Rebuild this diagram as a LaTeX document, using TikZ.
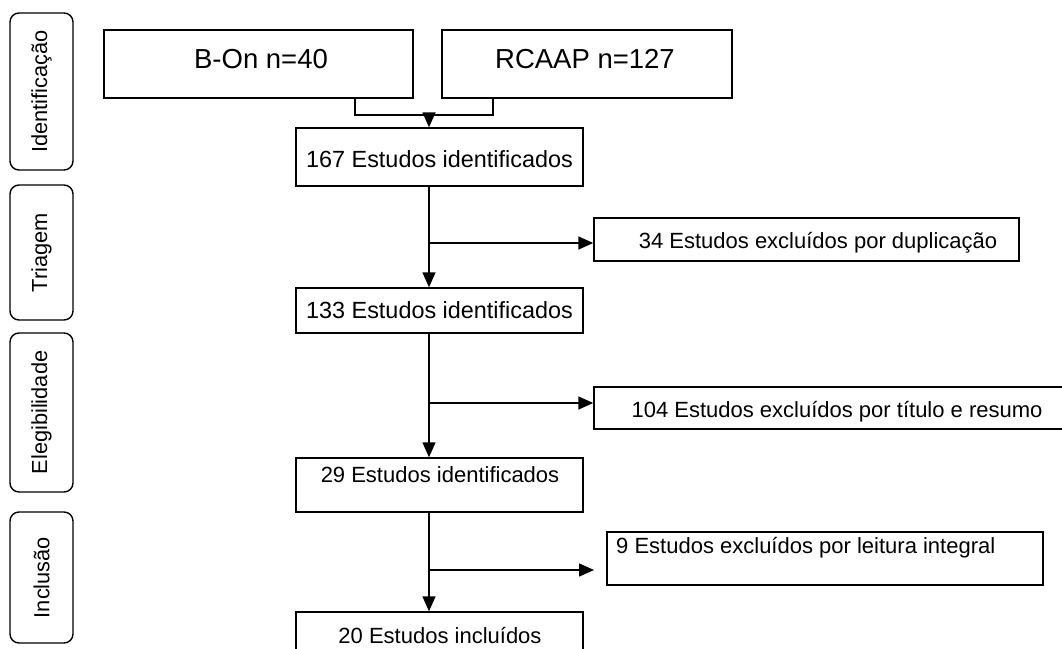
\documentclass[tikz,border=0pt]{standalone}
\usepackage{fontspec}
\setmainfont{Liberation Sans}
\usetikzlibrary{arrows.meta}
\begin{document}
\begin{tikzpicture}[x=1pt,y=-1pt,
  box/.style={draw,line width=1.4pt,inner sep=0pt,rectangle},
  lane/.style={draw,line width=1.4pt,rounded corners=9pt,inner sep=0pt,rectangle},
  big/.style={inner sep=0pt,anchor=base,font=\fontsize{27.5}{31}\selectfont},
  mid/.style={inner sep=0pt,anchor=base,font=\fontsize{23.4}{27}\selectfont},
  small/.style={inner sep=0pt,anchor=base,font=\fontsize{22}{26}\selectfont},
  lanetxt/.style={inner sep=0pt,rotate=90,font=\fontsize{21.8}{25}\selectfont},
  conn/.style={line width=1.5pt},
  arr/.style={line width=1.5pt,-{Triangle[length=15pt,width=13pt]}}]
\useasboundingbox (0,0) rectangle (1062,648);
\clip (0,0) rectangle (1062,648);
\fill[white] (0,0) rectangle (1062,648);

% lanes
\node[lane,minimum width=63pt,minimum height=157pt] (l1) at (41.5,91.5) {};
\node[lanetxt] (tl1) at (l1.center) {Identificação};
\node[lane,minimum width=63pt,minimum height=135pt] (l2) at (41.5,252.5) {};
\node[lanetxt] (tl2) at (l2.center) {Triagem};
\node[lane,minimum width=63pt,minimum height=159pt] (l3) at (41.5,412.5) {};
\node[lanetxt] (tl3) at (l3.center) {Elegibilidade};
\node[lane,minimum width=63pt,minimum height=131pt] (l4) at (41.5,577.5) {};
\node[lanetxt] (tl4) at (l4.center) {Inclusão};

% sources
\node[box,minimum width=309pt,minimum height=68pt] (bon) at (258.5,64) {};
\node[big] (tbon) at (261,68) {B-On n=40};
\node[box,minimum width=290pt,minimum height=68pt] (rcaap) at (587,64) {};
\node[big] (trcaap) at (585,68) {RCAAP n=127};

% main column
\node[box,minimum width=287pt,minimum height=58pt] (n167) at (439.5,157) {};
\node[mid] (t167) at (439.5,167) {167 Estudos identificados};
\node[box,minimum width=287pt,minimum height=45pt] (n133) at (439.5,310.5) {};
\node[mid] (t133) at (439.5,318) {133 Estudos identificados};
\node[box,minimum width=287pt,minimum height=54pt] (n29) at (439.5,485) {};
\node[small] (t29) at (440,482) {29 Estudos identificados};
\node[box,minimum width=287pt,minimum height=60pt] (n20) at (439.5,642) {};
\node[small] (t20) at (440,643) {20 Estudos incluídos};

% exclusions
\node[box,minimum width=425pt,minimum height=43pt] (e34) at (806.5,239.5) {};
\node[small] (te34) at (818,248) {34 Estudos excluídos por duplicação};
\node[box,minimum width=480pt,minimum height=42pt] (e104) at (834,408) {};
\node[small] (te104) at (837,417) {104 Estudos excluídos por título e resumo};
\node[box,minimum width=436pt,minimum height=53pt] (e9) at (825,558.5) {};
\node[small,anchor=base west] (te9) at (616,553) {9 Estudos excluídos por leitura integral};

% connectors
\coordinate (jl) at (355,115);
\coordinate (jr) at (493,115);
\coordinate (jm) at (429,115);
\draw[conn] (bon.south -| jl) -- (jl) -- (jr) -- (rcaap.south -| jr);
\draw[arr] (jm) -- (n167.north -| jm);

\coordinate (b1) at (429,243);
\coordinate (b2) at (429,403);
\coordinate (b3) at (429,570);
\coordinate (e9tip) at (594,570);
\draw[arr] (n167.south -| b1) -- (n133.north -| b1);
\draw[arr] (b1) -- (b1 -| e34.west);
\draw[arr] (n133.south -| b2) -- (n29.north -| b2);
\draw[arr] (b2) -- (b2 -| e104.west);
\draw[arr] (n29.south -| b3) -- (n20.north -| b3);
\draw[arr] (b3) -- (e9tip);
\end{tikzpicture}
\end{document}
